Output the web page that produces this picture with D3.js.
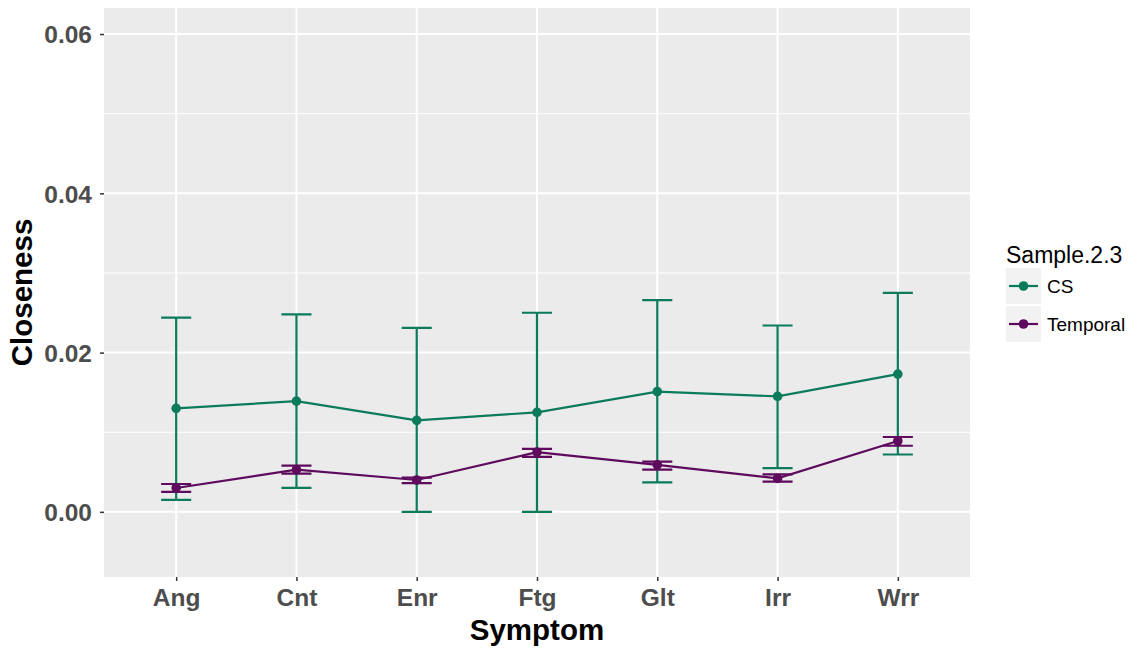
<!DOCTYPE html>
<html>
<head>
    <meta charset="utf-8" />
    <style>
        body { margin: 0; background: #fff; }
        svg { font-family: "Liberation Sans", Arial, sans-serif; }
        .tick-label { font-size: 24.5px; font-weight: bold; fill: #4d4d4d; }
        .axis-title { font-size: 29.5px; font-weight: bold; fill: #000; }
    </style>
    <script src="https://d3js.org/d3.v7.min.js"></script>
</head>
<body>
<script>

// data
let symptoms = ["Ang", "Cnt", "Enr", "Ftg", "Glt", "Irr", "Wrr"];

let csMean  = [0.0130, 0.0139, 0.0115, 0.0125, 0.0151, 0.0145, 0.0173];
let csUpper = [0.0244, 0.0248, 0.0231, 0.0250, 0.0266, 0.0234, 0.0275];
let csLower = [0.0015, 0.0030, 0.0000, 0.0000, 0.0037, 0.0055, 0.0072];

let tmpMean  = [0.0030, 0.0053, 0.0040, 0.0075, 0.0059, 0.0042, 0.0089];
let tmpUpper = [0.0035, 0.0058, 0.0043, 0.0079, 0.0063, 0.0047, 0.0094];
let tmpLower = [0.0025, 0.0048, 0.0036, 0.0069, 0.0053, 0.0038, 0.0083];

let yTicks = [0, 0.02, 0.04, 0.06];
let yMinor = [0.01, 0.03, 0.05];

let seriesNames = ["CS", "Temporal"];
let colors = ["#0b7b5c", "#5e0b5e"];

let series = [
    { name: seriesNames[0], color: colors[0], mean: csMean, upper: csUpper, lower: csLower },
    { name: seriesNames[1], color: colors[1], mean: tmpMean, upper: tmpUpper, lower: tmpLower }
];

let W = 1139, H = 652;
let panel = { left: 104, top: 8, right: 970, bottom: 577 };

let svg = d3.select("body").append("svg")
    .attr("width", W)
    .attr("height", H);

// ggplot style discrete scale with 0.6 expansion
let xScale = d3.scalePoint()
    .domain(symptoms)
    .range([panel.left, panel.right])
    .padding(0.6);

let band = xScale.step();

let yScale = d3.scaleLinear()
    .domain([-0.00818, 0.06327])
    .range([panel.bottom, panel.top]);

// panel background
svg.append("rect")
    .attr("x", panel.left)
    .attr("y", panel.top)
    .attr("width", panel.right - panel.left)
    .attr("height", panel.bottom - panel.top)
    .attr("fill", "#ebebeb");

// grid
svg.selectAll(".minor")
    .data(yMinor)
    .enter()
    .append("line")
    .attr("x1", panel.left).attr("x2", panel.right)
    .attr("y1", d => yScale(d)).attr("y2", d => yScale(d))
    .attr("stroke", "#fff").attr("stroke-width", 1);

svg.selectAll(".major")
    .data(yTicks)
    .enter()
    .append("line")
    .attr("x1", panel.left).attr("x2", panel.right)
    .attr("y1", d => yScale(d)).attr("y2", d => yScale(d))
    .attr("stroke", "#fff").attr("stroke-width", 2);

svg.selectAll(".vmajor")
    .data(symptoms)
    .enter()
    .append("line")
    .attr("y1", panel.top).attr("y2", panel.bottom)
    .attr("x1", d => xScale(d)).attr("x2", d => xScale(d))
    .attr("stroke", "#fff").attr("stroke-width", 2);

// axes
let xAxis = d3.axisBottom(xScale).tickSize(4).tickPadding(5);
let gx = svg.append("g")
    .attr("transform", "translate(0," + panel.bottom + ")")
    .call(xAxis);
gx.select(".domain").remove();
gx.selectAll("line").attr("stroke", "#333").attr("stroke-width", 1.5);
gx.selectAll("text").attr("class", "tick-label").attr("dy", "0.82em");

let yAxis = d3.axisLeft(yScale)
    .tickValues(yTicks)
    .tickFormat(d3.format(".2f"))
    .tickSize(4)
    .tickPadding(8);
let gy = svg.append("g")
    .attr("transform", "translate(" + panel.left + ",0)")
    .call(yAxis);
gy.select(".domain").remove();
gy.selectAll("line").attr("stroke", "#333").attr("stroke-width", 1.5);
gy.selectAll("text").attr("class", "tick-label").attr("dy", "0.36em");

// axis titles
svg.append("text")
    .attr("class", "axis-title")
    .attr("x", (panel.left + panel.right) / 2)
    .attr("y", 640)
    .attr("text-anchor", "middle")
    .text("Symptom");

svg.append("text")
    .attr("class", "axis-title")
    .attr("transform", "translate(32," + ((panel.top + panel.bottom) / 2) + ") rotate(-90)")
    .attr("text-anchor", "middle")
    .text("Closeness");

// series: errorbars, lines, points
let capW = band * 0.25;

series.forEach(s => {
    let g = svg.append("g");
    let rows = symptoms.map((k, i) => ({ k: k, m: s.mean[i], hi: s.upper[i], lo: s.lower[i] }));

    g.selectAll(".eb")
        .data(rows)
        .enter()
        .append("path")
        .attr("fill", "none")
        .attr("stroke", s.color)
        .attr("stroke-width", 2.2)
        .attr("d", d => {
            let x = xScale(d.k), yh = yScale(d.hi), yl = yScale(d.lo);
            return "M" + (x - capW / 2) + "," + yh + "H" + (x + capW / 2) +
                "M" + x + "," + yh + "V" + yl +
                "M" + (x - capW / 2) + "," + yl + "H" + (x + capW / 2);
        });

    g.append("path")
        .datum(rows)
        .attr("fill", "none")
        .attr("stroke", s.color)
        .attr("stroke-width", 2.2)
        .attr("d", d3.line().x(d => xScale(d.k)).y(d => yScale(d.m)));

    g.selectAll("circle")
        .data(rows)
        .enter()
        .append("circle")
        .attr("cx", d => xScale(d.k))
        .attr("cy", d => yScale(d.m))
        .attr("r", 4.8)
        .attr("fill", s.color);
});

// legend
let legend = svg.append("g").attr("transform", "translate(1006,0)");
legend.append("text")
    .attr("x", 0).attr("y", 263)
    .attr("font-size", 23)
    .attr("fill", "#000")
    .text("Sample.2.3");

series.forEach((s, i) => {
    let y0 = 268 + i * 38;
    let key = legend.append("g").attr("transform", "translate(0," + y0 + ")");
    key.append("rect")
        .attr("width", 35).attr("height", 36)
        .attr("fill", "#f2f2f2");
    key.append("line")
        .attr("x1", 3).attr("x2", 32)
        .attr("y1", 18).attr("y2", 18)
        .attr("stroke", s.color).attr("stroke-width", 2.2);
    key.append("circle")
        .attr("cx", 17.5).attr("cy", 18).attr("r", 4.8)
        .attr("fill", s.color);
    key.append("text")
        .attr("x", 41).attr("y", 25)
        .attr("font-size", 19)
        .attr("fill", "#000")
        .text(s.name);
});

</script>
</body>
</html>
